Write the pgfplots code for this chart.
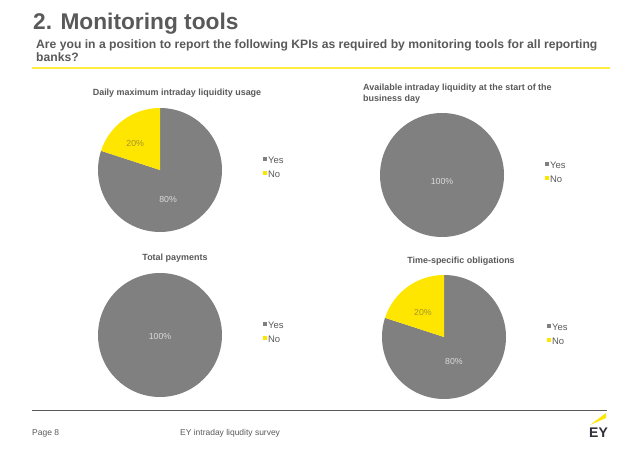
\documentclass[border=0pt]{standalone}
\usepackage{fontspec}
\setmainfont{Liberation Sans}
\usepackage{pgfplots}
\usepackage{pgfplotstable}
\pgfplotsset{compat=1.18}

\definecolor{piegray}{HTML}{808080}
\definecolor{eyyellow}{HTML}{FFE600}
\definecolor{txtgray}{HTML}{595959}
\definecolor{lblgray}{HTML}{DADADA}
\definecolor{lblgold}{HTML}{A39530}
\definecolor{eydark}{HTML}{2E2E38}

% one table per pie
\pgfplotstableread{
label value
Yes 80
No 20
}\pieDaily
\pgfplotstableread{
label value
Yes 100
No 0
}\pieAvail
\pgfplotstableread{
label value
Yes 100
No 0
}\pieTotal
\pgfplotstableread{
label value
Yes 80
No 20
}\pieTime

% reads the Yes share of a table into \vyes and the split angle into \ea
\newcommand\getpie[1]{%
  \pgfplotstablegetelem{0}{value}\of#1%
  \pgfmathtruncatemacro\vyes{\pgfplotsretval}%
  \pgfplotstablegetelem{1}{value}\of#1%
  \pgfmathtruncatemacro\vno{\pgfplotsretval}%
  \pgfmathsetmacro\ea{90-3.6*\vyes}%
}

\pgfplotsset{
  pieax/.style={
    hide axis, scale only axis, clip=false,
    x=62bp, y=62bp, xmin=-1, xmax=1, ymin=-1, ymax=1,
    anchor=center,
    legend image code/.code={\fill[##1, draw=none] (0bp,0.6bp) rectangle (4bp,4.6bp);},
    legend style={draw=none, fill=none, at={(1.33,0.62)}, anchor=north west,
      font=\fontsize{9.5}{11}\selectfont\color{txtgray}, row sep=2bp,
      inner sep=0pt, cells={anchor=west}, nodes={inner xsep=1bp}},
  },
}
\newcommand\drawpie{%
  \fill[piegray] (axis cs:0,0) -- ++(90:62bp) arc[start angle=90, end angle=\ea, radius=62bp] -- cycle;
  \ifnum\vno>0
  \fill[eyyellow] (axis cs:0,0) -- ++(\ea:62bp) arc[start angle=\ea, end angle=-270, radius=62bp] -- cycle;
  \fi
  \addlegendimage{fill=piegray}\addlegendentry{Yes}
  \addlegendimage{fill=eyyellow}\addlegendentry{No}
}

\begin{document}
\begin{tikzpicture}
\useasboundingbox (0,0) rectangle (638bp,452bp);
\coordinate (c1) at (160bp,282bp);
\coordinate (c2) at (442bp,277bp);
\coordinate (c3) at (160bp,117bp);
\coordinate (c4) at (444bp,115bp);

% header
\node[anchor=base west, inner sep=0pt, text=txtgray, font=\fontsize{22.8}{25}\selectfont\bfseries]
  at (33bp,422bp) {2. Monitoring tools};
\node[anchor=base west, inner sep=0pt, text=txtgray, font=\fontsize{12.2}{14}\selectfont\bfseries]
  at (36bp,403bp) {Are you in a position to report the following KPIs as required by monitoring tools for all reporting};
\node[anchor=base west, inner sep=0pt, text=txtgray, font=\fontsize{12.2}{14}\selectfont\bfseries]
  at (36bp,390bp) {banks?};
\draw[eyyellow!75!white, line width=1.3bp] (32bp,384bp) -- (610bp,384bp);

% pie titles
\begin{scope}[every node/.style={inner sep=0pt, text=txtgray, font=\fontsize{9}{11}\selectfont\bfseries}]
\node at (177bp,359bp) {Daily maximum intraday liquidity usage};
\node[anchor=west, align=left] at (363bp,358bp) {Available intraday liquidity at the start of the\\business day};
\node at (175bp,194bp) {Total payments};
\node at (461bp,191bp) {Time-specific obligations};
\end{scope}

% pie 1
\getpie{\pieDaily}
\begin{axis}[pieax, at={(c1)}]
\drawpie
\node[text=lblgray, font=\fontsize{8.8}{10}\selectfont] at (axis cs:0.13,-0.47) {\vyes\%};
\node[text=lblgold, font=\fontsize{8.8}{10}\selectfont] at (axis cs:-0.40,0.43) {\vno\%};
\end{axis}

% pie 2
\getpie{\pieAvail}
\begin{axis}[pieax, at={(c2)}]
\drawpie
\node[text=lblgray, font=\fontsize{8.8}{10}\selectfont] at (axis cs:0,-0.1) {\vyes\%};
\end{axis}

% pie 3
\getpie{\pieTotal}
\begin{axis}[pieax, at={(c3)}]
\drawpie
\node[text=lblgray, font=\fontsize{8.8}{10}\selectfont] at (axis cs:0,-0.03) {\vyes\%};
\end{axis}

% pie 4
\getpie{\pieTime}
\begin{axis}[pieax, at={(c4)}]
\drawpie
\node[text=lblgray, font=\fontsize{8.8}{10}\selectfont] at (axis cs:0.16,-0.40) {\vyes\%};
\node[text=lblgold, font=\fontsize{8.8}{10}\selectfont] at (axis cs:-0.34,0.39) {\vno\%};
\end{axis}

% footer
\draw[txtgray, line width=0.6bp] (32bp,42bp) -- (607bp,42bp);
\node[anchor=west, inner sep=0pt, text=txtgray, font=\fontsize{8.5}{10}\selectfont] at (32bp,19bp) {Page 8};
\node[anchor=west, inner sep=0pt, text=txtgray, font=\fontsize{8.5}{10}\selectfont] at (180bp,19bp) {EY intraday liqudity survey};
\node[inner sep=0pt, text=eydark, font=\fontsize{14}{14}\selectfont\bfseries] at (598.5bp,19bp) {EY};
\fill[eyyellow] (590bp,27bp) -- (606bp,39bp) -- (606bp,34bp) -- cycle;
\end{tikzpicture}
\end{document}
